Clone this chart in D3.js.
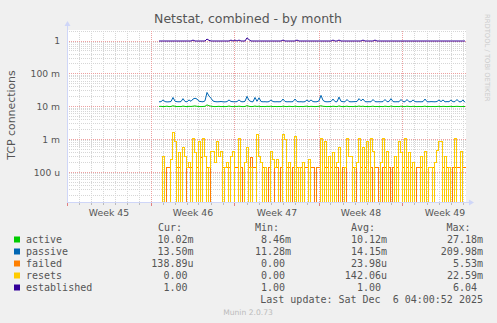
<!DOCTYPE html>
<html><head><meta charset="utf-8">
<script src="https://cdn.jsdelivr.net/npm/d3@7/dist/d3.min.js"></script>
<style>html,body{margin:0;padding:0;background:#F0F0F0;}svg{display:block;}</style>
</head><body>
<svg id="c" width="497" height="323"></svg>
<script>
// ---------- data ----------
const seriesNames  = ["active", "passive", "failed", "resets", "established"];
const seriesColors = ["#00CC00", "#0066B3", "#FF8000", "#FFCC00", "#330099"];
const weekLabels   = ["Week 45", "Week 46", "Week 47", "Week 48", "Week 49"];
const yTickValues  = [1e-4, 1e-3, 1e-2, 1e-1, 1];
const yTickLabels  = ["100 u", "1 m", "10 m", "100 m", "1"];
const legendCur = ["10.02m", "13.50m", "138.89u", "0.00", "1.00"];
const legendMin = ["8.46m", "11.28m", "0.00", "0.00", "1.00"];
const legendAvg = ["10.12m", "14.15m", "23.98u", "142.06u", "1.00"];
const legendMax = ["27.18m", "209.98m", "5.53m", "22.59m", "6.04"];
const lastUpdate = "Last update: Sat Dec  6 04:00:52 2025";

// samples every 4 hours starting Nov 10 2025 16:00
const sampleStart = Date.UTC(2025, 10, 10, 16);
const sampleStepHours = 4;

// active (milli)
const activeMilli = [
10.1,10.2,10.0,10.1,10.3,10.0,10.1,10.6,10.2,10.0,
10.1,10.0,10.4,10.1,10.0,10.2,10.1,10.3,10.5,10.2,
10.1,10.0,10.1,10.2,11.3,10.6,10.3,10.1,10.0,10.1,
10.2,10.0,10.1,10.0,10.1,10.4,10.1,10.0,10.2,10.1,
10.3,10.1,10.0,10.1,10.7,10.2,10.0,10.1,10.4,10.1,
10.3,10.0,10.1,10.0,10.2,10.1,10.3,10.0,10.1,10.0,
10.1,10.0,10.3,10.1,10.0,10.2,10.1,10.0,10.3,10.1,
10.0,10.1,10.0,10.2,10.3,10.0,10.2,10.1,10.0,10.1,
10.2,10.6,10.2,10.1,10.0,10.1,10.0,10.3,10.1,10.0,
10.5,10.1,10.0,10.1,10.3,10.0,10.1,10.0,10.2,10.1,
10.4,10.1,10.3,10.0,10.1,10.0,10.1,10.3,10.0,10.1,
10.0,10.1,10.0,10.3,10.1,10.0,10.4,10.1,10.0,10.1,
10.0,10.3,10.1,10.0,10.3,10.1,10.0,10.2,10.1,10.0,
10.1,10.0,10.1,10.3,10.0,10.1,10.0,10.1,10.0,10.1,
10.2,10.0,10.2,10.1,10.0,10.1,10.2,10.0,10.1,10.2,
10.1,10.0,10.1,10.02];

// passive (milli)
const passiveMilli = [
14.0,14.1,16.0,14.2,13.9,14.0,14.3,19.0,14.6,14.1,
14.0,14.2,17.5,14.3,14.0,16.0,14.5,17.0,18.0,17.0,
14.6,14.2,14.0,15.0,27.0,21.0,18.0,14.8,14.2,14.0,
14.1,14.3,14.0,13.9,14.2,16.0,14.3,14.1,14.0,14.2,
16.0,14.2,14.0,14.5,20.5,15.5,14.2,14.0,19.0,14.5,
18.5,14.3,14.0,14.1,13.9,14.2,16.0,14.2,14.0,14.1,
14.0,14.2,17.0,14.3,14.0,14.1,14.0,14.2,17.0,14.3,
14.0,14.1,13.9,14.2,16.0,14.1,16.0,14.2,14.0,14.1,
15.0,22.0,15.5,14.2,14.0,14.1,14.3,17.0,14.2,14.0,
19.5,14.5,14.1,14.0,16.5,14.2,14.0,14.1,14.2,14.3,
17.5,15.0,17.0,14.2,14.0,14.1,14.0,16.5,14.2,14.0,
14.1,14.0,14.2,16.5,14.1,14.3,17.5,14.2,14.0,14.1,
14.0,16.5,14.2,14.0,16.5,14.1,14.0,16.0,14.2,14.0,
14.1,14.0,14.2,17.0,14.1,14.0,14.2,14.1,14.0,14.3,
16.0,14.1,16.0,14.0,14.2,14.1,16.0,14.0,14.2,16.5,
14.1,14.0,16.0,13.5];

// failed (micro)
const failedMicro = [
0,0,0,0,139,139,0,0,0,139,
139,0,0,0,139,139,139,0,0,139,
0,278,0,0,139,139,0,0,0,0,
0,0,139,139,139,139,0,0,139,139,
0,139,0,0,0,139,278,139,139,0,
0,0,139,139,0,139,0,0,139,139,
0,139,0,0,139,139,0,139,0,139,
139,139,0,139,139,0,139,139,0,139,
139,0,0,139,139,0,139,0,139,139,
0,0,139,139,0,0,0,139,139,0,
0,139,0,139,0,0,139,0,139,139,
0,0,139,139,0,139,0,139,0,139,
0,0,139,0,139,0,139,0,0,139,
139,139,0,0,0,139,139,139,0,0,
0,0,139,0,139,0,0,139,139,139,
139,0,139,138.89];

// resets (micro)
const resetsMicro = [
0,0,300,0,0,0,240,1600,860,0,
390,0,550,300,139,200,0,1100,390,0,
860,0,1050,300,0,139,425,425,200,860,
300,425,0,139,200,0,300,425,0,0,
1100,0,0,200,550,0,139,0,0,1400,
300,200,0,139,0,0,425,240,139,240,
0,0,1400,1000,0,200,0,0,1200,0,
139,0,200,0,0,240,0,0,0,0,
0,1050,0,860,0,300,0,390,0,200,
550,0,0,139,1100,300,300,0,139,200,
1100,0,550,0,860,0,1100,425,0,0,
0,200,1100,0,425,0,0,0,300,0,
860,390,0,1100,0,390,0,200,0,0,
0,300,0,425,0,139,139,0,200,470,
860,860,0,300,0,139,0,0,1100,0,
0,425,0,0];

// established
const established = [
1,1,1,1,1,1,1,1,1,1,
1,1,1,1,1,1,1,1.07,1,1,
1,1,1,1,1.15,1.05,1,1,1,1,
1,1,1,1,1,1,1.07,1,1.07,1,
1.07,1,1,1,1.25,1.1,1,1,1,1,
1,1,1,1,1,1,1,1,1,1,
1,1,1.07,1,1,1,1,1,1,1.07,
1,1,1,1,1,1,1,1,1,1,
1,1,1,1,1,1,1,1.07,1,1,
1.07,1,1,1,1,1,1,1,1,1,
1,1,1.07,1,1,1,1,1,1.07,1,
1,1,1,1,1,1,1,1,1,1,
1,1,1,1,1,1,1,1,1,1,
1,1,1,1,1,1,1,1,1,1,
1,1,1,1,1,1,1,1,1,1,
1,1,1,1];

// ---------- layout ----------
const plot = {left: 67, right: 466, top: 31, bottom: 202};
const FONT = "'DejaVu Sans', Verdana, sans-serif";
const MONO = "'DejaVu Sans Mono', monospace";
const TXT = "#555555";
const AXIS = "#CFD6F8";

const svg = d3.select("#c");
svg.append("rect").attr("width", 497).attr("height", 323).attr("fill", "#F0F0F0");

const x = d3.scaleUtc()
  .domain([new Date(Date.UTC(2025, 10, 3)), new Date(Date.UTC(2025, 11, 6, 6))])
  .range([plot.left, plot.right]);
const y = d3.scaleLog().domain([1.233e-5, 2.02]).range([plot.bottom, plot.top]);

svg.append("rect").attr("x", plot.left).attr("y", plot.top - 1)
  .attr("width", plot.right - plot.left).attr("height", plot.bottom - plot.top + 1)
  .attr("fill", "#FFFFFF");

const g = svg.append("g");
const px = v => Math.floor(v) + 0.5;

// horizontal grid
const [dmin, dmax] = y.domain();
const minorY = [], majorY = [];
for (let e = -5; e <= 0; e++) {
  for (let k = 1; k <= 9; k++) {
    const v = k * Math.pow(10, e);
    if (v < dmin || v > dmax) continue;
    (k === 1 ? majorY : minorY).push(v);
  }
}
const gridStyle = sel => sel.attr("stroke-width", 1).attr("stroke-dasharray", "1,1").attr("shape-rendering", "crispEdges");
g.selectAll(".hmin").data(minorY).join("line")
  .attr("x1", plot.left).attr("x2", plot.right)
  .attr("y1", d => px(y(d))).attr("y2", d => px(y(d)))
  .attr("stroke", "#D6D6D6").call(gridStyle);

// vertical grid
const days = d3.utcDay.range(x.domain()[0], x.domain()[1]);
const weeks = d3.utcMonday.range(x.domain()[0], x.domain()[1]);
g.selectAll(".vmin").data(days).join("line")
  .attr("x1", d => px(x(d))).attr("x2", d => px(x(d)))
  .attr("y1", plot.top).attr("y2", plot.bottom)
  .attr("stroke", "#D6D6D6").call(gridStyle);

g.selectAll(".hmaj").data(majorY).join("line")
  .attr("x1", plot.left).attr("x2", plot.right)
  .attr("y1", d => px(y(d))).attr("y2", d => px(y(d)))
  .attr("stroke", "#EDA0A0").call(gridStyle);
g.selectAll(".vmaj").data(weeks).join("line")
  .attr("x1", d => px(x(d))).attr("x2", d => px(x(d)))
  .attr("y1", plot.top).attr("y2", plot.bottom)
  .attr("stroke", "#EDA0A0").call(gridStyle);

// ticks below x axis
g.selectAll(".tmin").data(days).join("line")
  .attr("x1", d => px(x(d))).attr("x2", d => px(x(d)))
  .attr("y1", plot.bottom).attr("y2", plot.bottom + 3)
  .attr("stroke", "#BBBBBB").attr("shape-rendering", "crispEdges");
g.selectAll(".tmaj").data(weeks).join("line")
  .attr("x1", d => px(x(d))).attr("x2", d => px(x(d)))
  .attr("y1", plot.bottom).attr("y2", plot.bottom + 4)
  .attr("stroke", "#E08080").attr("shape-rendering", "crispEdges");

// ---------- series ----------
const seriesData = [
  activeMilli.map(v => v * 1e-3),
  passiveMilli.map(v => v * 1e-3),
  failedMicro.map(v => v * 1e-6),
  resetsMicro.map(v => v * 1e-6),
  established
];
const stepped = [false, false, true, true, false];
svg.append("clipPath").attr("id", "clip").append("rect")
  .attr("x", plot.left).attr("y", plot.top - 1)
  .attr("width", plot.right - plot.left).attr("height", plot.bottom - plot.top + 1);
const lines = svg.append("g").attr("clip-path", "url(#clip)");
const tAt = i => new Date(sampleStart + i * sampleStepHours * 3600e3);
seriesData.forEach((vals, s) => {
  const line = d3.line()
    .x((d, i) => x(tAt(i)) + (stepped[s] ? 0.5 : 0))
    .y(d => d > 0 ? y(d) : plot.bottom + 2)
    .curve(stepped[s] ? d3.curveStep : d3.curveLinear);
  lines.append("path").datum(vals)
    .attr("d", line)
    .attr("fill", "none")
    .attr("stroke", seriesColors[s])
    .attr("stroke-width", 1)
    .attr("shape-rendering", stepped[s] ? "crispEdges" : "auto");
});

// ---------- axes ----------
svg.append("line").attr("x1", plot.left).attr("x2", plot.right + 4)
  .attr("y1", px(plot.bottom)).attr("y2", px(plot.bottom))
  .attr("stroke", AXIS).attr("shape-rendering", "crispEdges");
svg.append("line").attr("x1", px(plot.left)).attr("x2", px(plot.left))
  .attr("y1", plot.bottom + 1).attr("y2", plot.top - 6)
  .attr("stroke", AXIS).attr("shape-rendering", "crispEdges");
svg.append("path").attr("d", `M${plot.right + 3},${plot.bottom - 2.5}L${plot.right + 8},${plot.bottom + 0.5}L${plot.right + 3},${plot.bottom + 3.5}Z`).attr("fill", AXIS);
svg.append("path").attr("d", `M${plot.left - 2.5},${plot.top - 5}L${plot.left + 0.5},${plot.top - 10}L${plot.left + 3.5},${plot.top - 5}Z`).attr("fill", AXIS);

// y tick labels
svg.selectAll(".ylab").data(yTickValues).join("text")
  .attr("x", 60).attr("y", d => y(d) + 3.4)
  .attr("text-anchor", "end")
  .attr("font-family", FONT).attr("font-size", 9.2).attr("fill", TXT)
  .text((d, i) => yTickLabels[i]);

// week labels
svg.selectAll(".wlab").data(weeks).join("text")
  .attr("x", d => x(new Date(+d + 3.5 * 864e5)))
  .attr("y", 215.7)
  .attr("text-anchor", "middle")
  .attr("font-family", FONT).attr("font-size", 9.3).attr("fill", TXT)
  .text((d, i) => weekLabels[i]);

// title
svg.append("text").attr("x", 248).attr("y", 23).attr("text-anchor", "middle")
  .attr("font-family", FONT).attr("font-size", 12.5).attr("fill", TXT)
  .text("Netstat, combined - by month");

// y axis label
svg.append("text").attr("transform", "translate(14.7,115) rotate(-90)")
  .attr("text-anchor", "middle")
  .attr("font-family", FONT).attr("font-size", 10.9).attr("fill", TXT)
  .text("TCP connections");

// rrdtool watermark
svg.append("text").attr("transform", "translate(485,14) rotate(90)")
  .attr("font-family", FONT).attr("font-size", 6.8).attr("fill", "#CCCCCC")
  .text("RRDTOOL / TOBI OETIKER");

// ---------- legend ----------
const charW = 6.02;
const headers = [["Cur:", 158], ["Min:", 255], ["Avg:", 351], ["Max:", 446.5]];
headers.forEach(([t, hx]) => {
  svg.append("text").attr("x", hx).attr("y", 231)
    .attr("font-family", MONO).attr("font-size", 10).attr("fill", TXT).text(t);
});
const colRight = [193.5, 291, 387, 483];
const cols = [legendCur, legendMin, legendAvg, legendMax];
seriesNames.forEach((name, i) => {
  const by = 243 + i * 12;
  svg.append("rect").attr("x", 14).attr("y", by - 6.5).attr("width", 6).attr("height", 6)
    .attr("fill", seriesColors[i]);
  svg.append("text").attr("x", 26).attr("y", by)
    .attr("font-family", MONO).attr("font-size", 10).attr("fill", TXT).text(name);
  cols.forEach((col, c) => {
    const s = col[i];
    const endX = /\d$/.test(s) ? colRight[c] - charW : colRight[c];
    svg.append("text").attr("x", endX).attr("y", by).attr("text-anchor", "end")
      .attr("font-family", MONO).attr("font-size", 10).attr("fill", TXT).text(s);
  });
});
svg.append("text").attr("x", 483).attr("y", 303).attr("text-anchor", "end")
  .attr("font-family", MONO).attr("font-size", 10).attr("fill", TXT)
  .style("white-space", "pre").text(lastUpdate);
svg.append("text").attr("x", 248).attr("y", 315).attr("text-anchor", "middle")
  .attr("font-family", FONT).attr("font-size", 7.6).attr("fill", "#BBBBBB")
  .text("Munin 2.0.73");
</script>
</body></html>
